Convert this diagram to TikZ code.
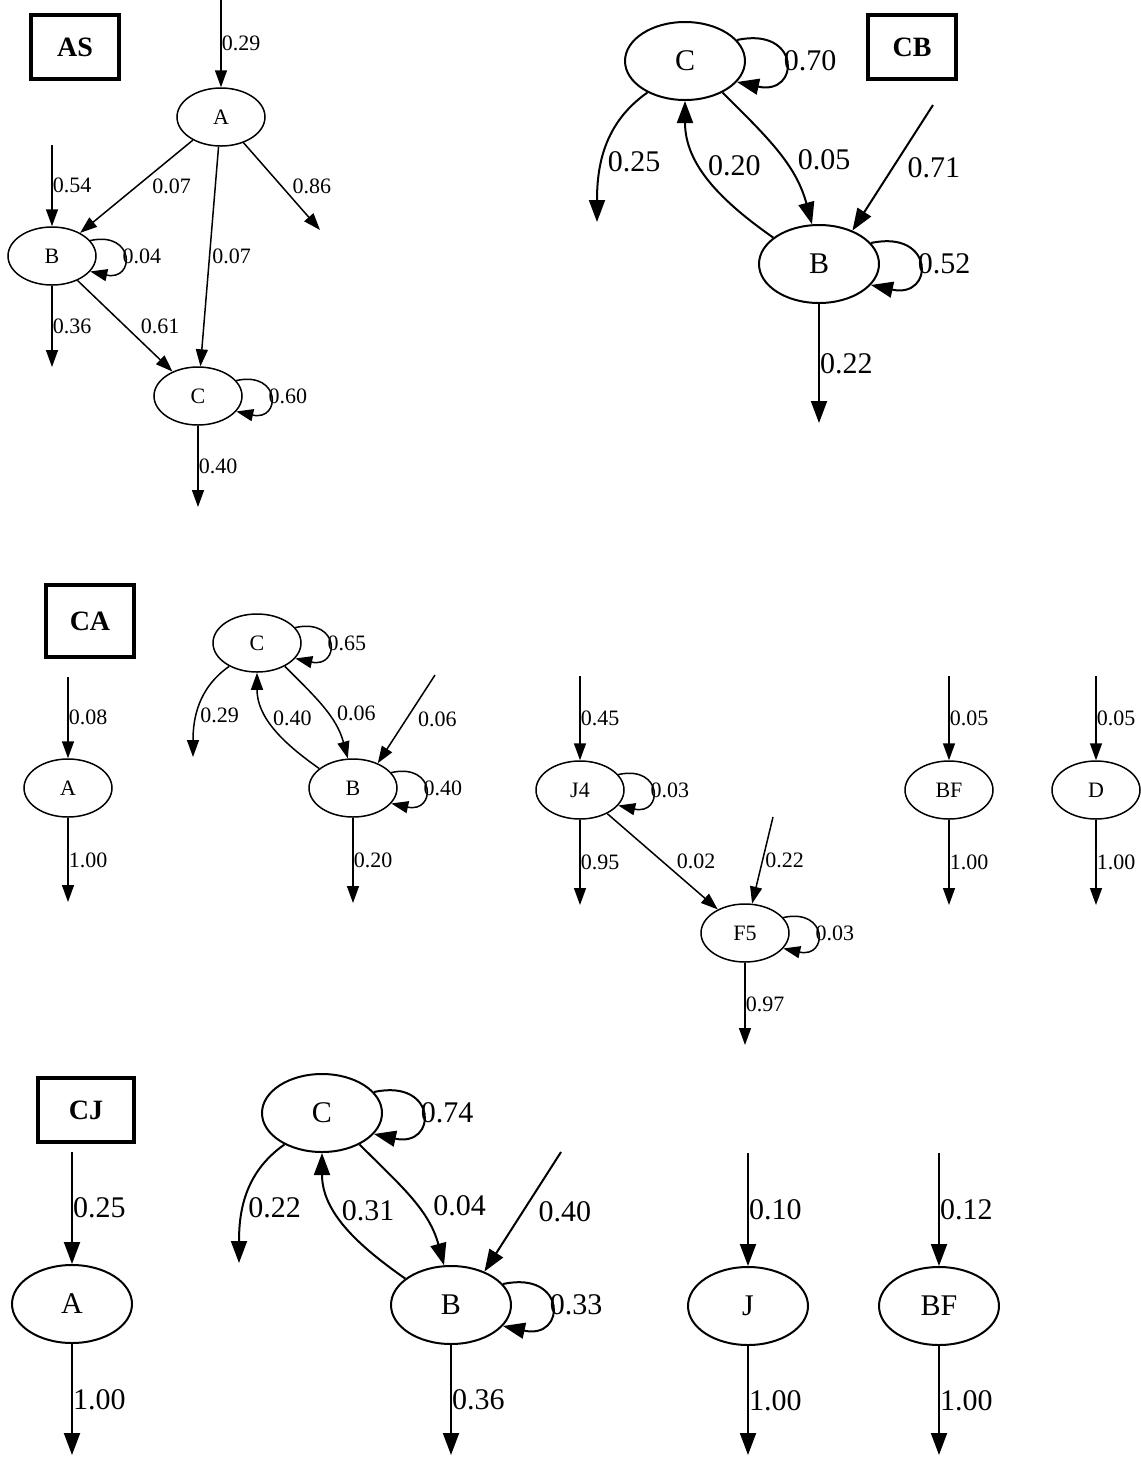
\documentclass[tikz,border=0pt]{standalone}
\usepackage{fontspec}
\setmainfont{Liberation Serif}
\usepackage{tikz}
\usetikzlibrary{shapes.geometric, arrows.meta}

\tikzset{
  state/.style={draw, ellipse, line width=0.75pt, minimum width=44pt, minimum height=29pt,
      inner sep=0pt, font=\fontsize{11}{13}\selectfont},
  bigstate/.style={state, line width=1pt, minimum width=60pt, minimum height=39pt,
      font=\fontsize{15}{18}\selectfont},
  panel/.style={draw, line width=2pt, minimum width=44pt, minimum height=32pt,
      inner sep=0pt, font=\bfseries\fontsize{14}{16}\selectfont},
  trans/.style={line width=0.75pt, -{Triangle[length=8.5pt, width=6pt]}},
  bigtrans/.style={line width=1pt, -{Triangle[length=11pt, width=8pt]}},
  prob/.style={anchor=west, inner sep=0pt, font=\fontsize{11}{13}\selectfont},
  bigprob/.style={prob, font=\fontsize{15}{18}\selectfont}
}

\begin{document}
\begin{tikzpicture}[x=0.5pt, y=0.5pt]
\useasboundingbox (0,0) rectangle (1141,-1458);

\node[panel] (as) at (75,-47) {AS};
\node[state] (asA) at (221,-117) {A};
\node[state] (asB) at (52,-256) {B};
\node[state] (asC) at (198,-396) {C};
\coordinate (asinA) at (221,0);
\coordinate (asinB) at (52,-145);
\coordinate (asoutA) at (320,-230);
\coordinate (asoutB) at (52,-367);
\coordinate (asoutC) at (198,-507);
\draw[trans] (asinA) -- node[prob] {0.29} (asA);
\draw[trans] (asinB) -- node[prob] {0.54} (asB);
\draw[trans] (asA) -- node[prob, xshift=7.5pt] {0.07} (asB);
\draw[trans] (asA) -- node[prob, xshift=1pt] {0.07} (asC);
\draw[trans] (asA) -- node[prob, xshift=5pt] {0.86} (asoutA);
\draw[trans] (asB) -- node[prob, xshift=7.5pt] {0.61} (asC);
\draw[trans] (asB) -- node[prob] {0.36} (asoutB);
\draw[trans] (asC) -- node[prob] {0.40} (asoutC);
\draw[trans] (asB.22) .. controls +(45,10) and +(45,-10) .. node[prob, xshift=-1pt] {0.04} (asB.-22);
\draw[trans] (asC.22) .. controls +(45,10) and +(45,-10) .. node[prob, xshift=-1pt] {0.60} (asC.-22);

\node[panel] (cb) at (912,-47) {CB};
\node[bigstate] (cbC) at (685,-61) {C};
\node[bigstate] (cbB) at (819,-264) {B};
\coordinate (cboutC) at (597,-222);
\coordinate (cbinB) at (933,-105);
\coordinate (cboutB) at (819,-423);
\draw[bigtrans] (cbC.-140) to[out=-145, in=90] node[bigprob, pos=.6, xshift=2.5pt] {0.25} (cboutC);
\draw[bigtrans] (cbB.150) to[out=145, in=-90] node[bigprob, pos=.6, xshift=3pt] {0.20} (cbC.-90);
\draw[bigtrans] (cbC.-40) to[out=-45, in=105] node[bigprob, pos=.56, xshift=7pt] {0.05} (cbB.100);
\draw[bigtrans] (cbinB) -- node[bigprob, xshift=7pt] {0.71} (cbB.45);
\draw[bigtrans] (cbB) -- node[bigprob] {0.22} (cboutB);
\draw[bigtrans] (cbC.22) .. controls +(64,14) and +(64,-14) .. node[bigprob, xshift=-1pt] {0.70} (cbC.-22);
\draw[bigtrans] (cbB.22) .. controls +(64,14) and +(64,-14) .. node[bigprob, xshift=-1pt] {0.52} (cbB.-22);

\node[panel, minimum height=36pt] (ca) at (90,-621) {CA};
\node[state] (caA) at (68,-788) {A};
\node[state] (caC) at (257,-643) {C};
\node[state] (caB) at (353,-788) {B};
\node[state] (caJ4) at (580,-790) {J4};
\node[state] (caF5) at (745,-933) {F5};
\node[state] (caBF) at (949,-790) {BF};
\node[state] (caD) at (1096,-790) {D};
\coordinate (cainA) at (68,-677);
\coordinate (caoutA) at (68,-902);
\coordinate (caoutC) at (193,-757);
\coordinate (cainB) at (435,-675);
\coordinate (caoutB) at (353,-903);
\coordinate (cainJ4) at (580,-676);
\coordinate (caoutJ4) at (580,-905);
\coordinate (cainF5) at (773,-817);
\coordinate (caoutF5) at (745,-1045);
\coordinate (cainBF) at (949,-676);
\coordinate (caoutBF) at (949,-905);
\coordinate (cainD) at (1096,-676);
\coordinate (caoutD) at (1096,-905);
\draw[trans] (cainA) -- node[prob] {0.08} (caA);
\draw[trans] (caA) -- node[prob] {1.00} (caoutA);
\draw[trans] (caC.-140) to[out=-145, in=90] node[prob, pos=.6, xshift=1.5pt] {0.29} (caoutC);
\draw[trans] (caB.150) to[out=145, in=-90] node[prob, pos=.6, xshift=2pt] {0.40} (caC.-90);
\draw[trans] (caC.-40) to[out=-45, in=105] node[prob, pos=.56, xshift=4.5pt] {0.06} (caB.100);
\draw[trans] (cainB) -- node[prob, xshift=5.5pt] {0.06} (caB.45);
\draw[trans] (caB) -- node[prob] {0.20} (caoutB);
\draw[trans] (caC.22) .. controls +(45,10) and +(45,-10) .. node[prob, xshift=-1pt] {0.65} (caC.-22);
\draw[trans] (caB.22) .. controls +(45,10) and +(45,-10) .. node[prob, xshift=-1pt] {0.40} (caB.-22);
\draw[trans] (cainJ4) -- node[prob] {0.45} (caJ4);
\draw[trans] (caJ4) -- node[prob] {0.95} (caoutJ4);
\draw[trans] (caJ4) -- node[prob, xshift=6.75pt] {0.02} (caF5);
\draw[trans] (cainF5) -- node[prob, xshift=1pt] {0.22} (caF5);
\draw[trans] (caF5) -- node[prob] {0.97} (caoutF5);
\draw[trans] (caJ4.22) .. controls +(45,10) and +(45,-10) .. node[prob, xshift=-1pt] {0.03} (caJ4.-22);
\draw[trans] (caF5.22) .. controls +(45,10) and +(45,-10) .. node[prob, xshift=-1pt] {0.03} (caF5.-22);
\draw[trans] (cainBF) -- node[prob] {0.05} (caBF);
\draw[trans] (caBF) -- node[prob] {1.00} (caoutBF);
\draw[trans] (cainD) -- node[prob] {0.05} (caD);
\draw[trans] (caD) -- node[prob] {1.00} (caoutD);

\node[panel, minimum width=48pt] (cj) at (86,-1110) {CJ};
\node[bigstate] (cjA) at (72,-1304) {A};
\node[bigstate] (cjC) at (322,-1113) {C};
\node[bigstate] (cjB) at (451,-1305) {B};
\node[bigstate] (cjJ) at (748,-1306) {J};
\node[bigstate] (cjBF) at (939,-1306) {BF};
\coordinate (cjinA) at (72,-1152);
\coordinate (cjoutA) at (72,-1455);
\coordinate (cjoutC) at (239,-1263);
\coordinate (cjinB) at (561,-1152);
\coordinate (cjoutB) at (451,-1455);
\coordinate (cjinJ) at (748,-1153);
\coordinate (cjoutJ) at (748,-1455);
\coordinate (cjinBF) at (939,-1153);
\coordinate (cjoutBF) at (939,-1455);
\draw[bigtrans] (cjinA) -- node[bigprob] {0.25} (cjA);
\draw[bigtrans] (cjA) -- node[bigprob] {1.00} (cjoutA);
\draw[bigtrans] (cjC.-140) to[out=-145, in=90] node[bigprob, pos=.6, xshift=2pt] {0.22} (cjoutC);
\draw[bigtrans] (cjB.150) to[out=145, in=-90] node[bigprob, pos=.62, xshift=2.5pt] {0.31} (cjC.-90);
\draw[bigtrans] (cjC.-40) to[out=-45, in=105] node[bigprob, pos=.56, xshift=8pt] {0.04} (cjB.100);
\draw[bigtrans] (cjinB) -- node[bigprob, xshift=7.5pt] {0.40} (cjB.45);
\draw[bigtrans] (cjB) -- node[bigprob] {0.36} (cjoutB);
\draw[bigtrans] (cjC.22) .. controls +(64,14) and +(64,-14) .. node[bigprob, xshift=-1pt] {0.74} (cjC.-22);
\draw[bigtrans] (cjB.22) .. controls +(64,14) and +(64,-14) .. node[bigprob, xshift=-1pt] {0.33} (cjB.-22);
\draw[bigtrans] (cjinJ) -- node[bigprob] {0.10} (cjJ);
\draw[bigtrans] (cjJ) -- node[bigprob] {1.00} (cjoutJ);
\draw[bigtrans] (cjinBF) -- node[bigprob] {0.12} (cjBF);
\draw[bigtrans] (cjBF) -- node[bigprob] {1.00} (cjoutBF);
\end{tikzpicture}
\end{document}
